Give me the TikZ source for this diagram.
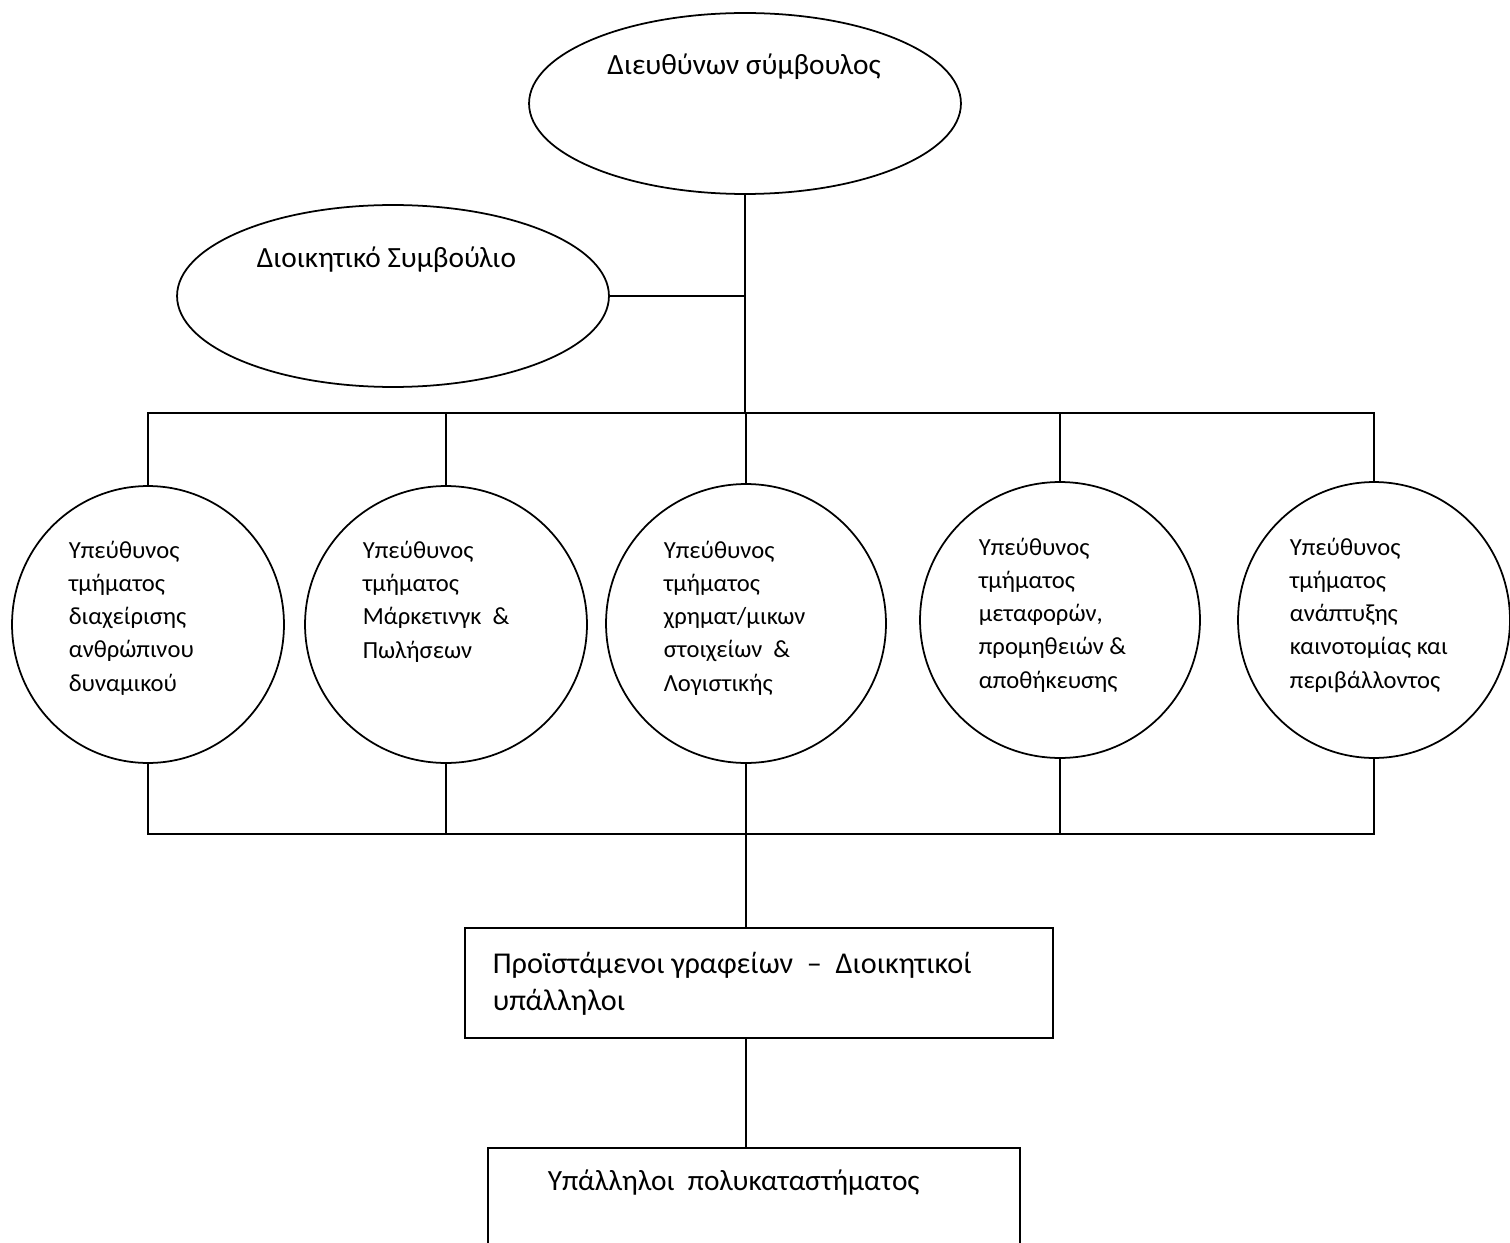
\documentclass[tikz,border=0pt]{standalone}
\usepackage{fontspec}
\setmainfont{Carlito}
\usetikzlibrary{shapes.geometric}
\begin{document}
\begin{tikzpicture}[x=0.02cm,y=-0.02cm,line width=1pt,
  oval/.style={draw,ellipse,inner sep=0pt},
  unitbox/.style={draw,rectangle,inner sep=0pt},
  bigtext/.style={font=\fontsize{16.7}{21}\selectfont,inner sep=0pt},
  smalltext/.style={font=\fontsize{14}{18.9}\selectfont,align=left,inner sep=0pt,anchor=base west}]
\useasboundingbox (0,0) rectangle (1510,1243);
\fill[white] (0,0) rectangle (1510,1243);
\clip (0,0) rectangle (1510,1243);

% top level
\node[oval,minimum width=8.64cm,minimum height=3.62cm] (ceo) at (745,103.5) {};
\node[bigtext,anchor=base] (ceot) at (744,75) {Διευθύνων σύμβουλος};
\node[oval,minimum width=8.64cm,minimum height=3.64cm] (board) at (393,296) {};
\node[bigtext,anchor=base west] (boardt) at (256,268) {Διοικητικό Συμβούλιο};

% department heads (text anchored on the baseline of its last line)
\node[oval,minimum width=5.44cm,minimum height=5.54cm] (c1) at (148,624.5) {};
\node[oval,minimum width=5.64cm,minimum height=5.54cm] (c2) at (446,624.5) {};
\node[oval,minimum width=5.60cm,minimum height=5.58cm] (c3) at (746,623.5) {};
\node[oval,minimum width=5.60cm,minimum height=5.52cm] (c4) at (1060,620) {};
\node[oval,minimum width=5.44cm,minimum height=5.52cm] (c5) at (1374,620) {};

\node[smalltext] (c1t) at (68,691) {Υπεύθυνος\\τμήματος\\διαχείρισης\\ανθρώπινου\\δυναμικού};
\node[smalltext] (c2t) at (362,658) {Υπεύθυνος\\τμήματος\\Μάρκετινγκ \ \&\\Πωλήσεων};
\node[smalltext] (c3t) at (663,691) {Υπεύθυνος\\τμήματος\\χρηματ/μικων\\στοιχείων \ \&\\Λογιστικής};
\node[smalltext] (c4t) at (978,688) {Υπεύθυνος\\τμήματος\\μεταφορών,\\προμηθειών \&\\αποθήκευσης};
\node[smalltext] (c5t) at (1289,688) {Υπεύθυνος\\τμήματος\\ανάπτυξης\\καινοτομίας και\\περιβάλλοντος};

% staff levels
\node[unitbox,minimum width=11.76cm,minimum height=2.2cm] (mgr) at (759,983) {};
\node[anchor=base west,align=left,inner sep=0pt,font=\fontsize{17.2}{21}\selectfont] (mgrt) at (492,1010)
  {Προϊστάμενοι γραφείων \ – \ Διοικητικοί\\υπάλληλοι};
\node[unitbox,minimum width=10.64cm,minimum height=2.2cm] (staff) at (754,1203) {};
\node[bigtext,anchor=base west] (stafft) at (547,1190) {Υπάλληλοι \ πολυκαταστήματος};

% connectors
\coordinate (tl) at (147,413);
\coordinate (tr) at (1375,413);
\coordinate (bl) at (147,834);
\coordinate (br) at (1375,834);
\coordinate (jb) at (746,834);

\draw (ceo.south) -- (ceo.south |- tl);
\draw (board.east) -- (board.east -| ceo.south);
\draw (tl) -- (tr);
\draw (bl) -- (br);
\foreach \c in {c1,c2,c3,c4,c5}{
  \draw (\c.north) -- (\c.north |- tl);
  \draw (\c.south) -- (\c.south |- bl);
}
\draw (jb) -- (jb |- mgr.north);
\draw (mgr.south -| jb) -- (staff.north -| jb);
\end{tikzpicture}
\end{document}
